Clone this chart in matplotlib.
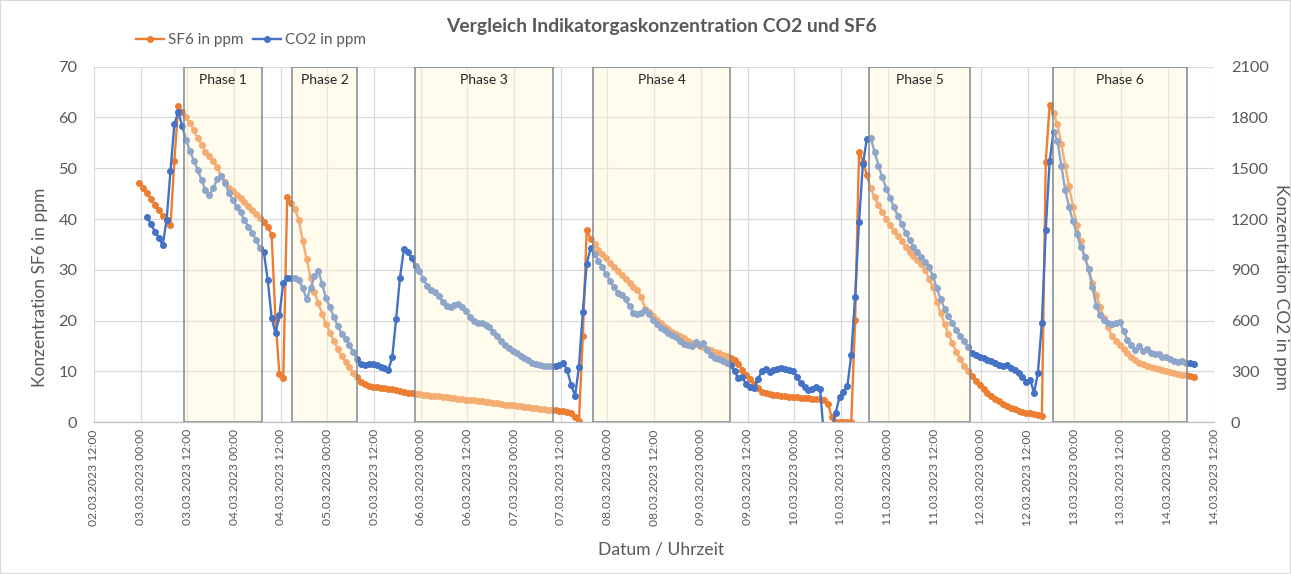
import numpy as np
import pandas as pd
import matplotlib
matplotlib.use("Agg")
import matplotlib.pyplot as plt
import matplotlib.dates as mdates
from matplotlib.patches import Rectangle

plt.rcParams['font.family'] = ['Lato', 'DejaVu Sans']

# hourly measurements, first sample 02.03.2023 23:40
start = "2023-03-02 23:40"

sf6_ppm = [
    47.2, 46.2, 45.1, 44.0, 42.8, 41.7, 40.7, 39.8, 38.8, 51.5,
    62.3, 61.0, 60.0, 58.9, 57.5, 55.9, 54.6, 53.3, 52.4, 51.4,
    50.2, 48.5, 47.4, 46.2, 45.6, 44.8, 44.1, 43.4, 42.6, 41.8,
    41.0, 40.3, 39.4, 38.5, 36.9, 20.1, 9.5, 8.7, 44.3, 43.1,
    42.0, 39.8, 35.7, 32.1, 28.5, 25.7, 23.4, 21.3, 19.3, 17.6,
    16.1, 14.4, 13.1, 11.9, 10.8, 9.8, 8.9, 7.9, 7.5, 7.1,
    7.0, 6.9, 6.8, 6.7, 6.6, 6.5, 6.3, 6.1, 5.9, 5.8,
    5.7, 5.6, 5.5, 5.4, 5.3, 5.25, 5.2, 5.1, 5.0, 4.9,
    4.8, 4.7, 4.6, 4.5, 4.45, 4.4, 4.3, 4.2, 4.1, 4.0,
    3.9, 3.8, 3.7, 3.6, 3.5, 3.4, 3.35, 3.3, 3.2, 3.1,
    3.0, 2.9, 2.8, 2.7, 2.6, 2.5, 2.4, 2.35, 2.3, 2.2,
    2.0, 1.8, 1.1, 0.3, 17.0, 37.9, 36.1, 35.1, 33.9, 33.1,
    32.3, 31.4, 30.6, 29.8, 29.0, 28.2, 27.5, 26.7, 26.0, 24.7,
    22.4, 21.8, 20.9, 20.1, 19.5, 18.8, 18.3, 17.8, 17.4, 16.9,
    16.5, 16.1, 15.7, 15.4, 15.1, 14.8, 14.5, 14.2, 13.9, 13.6,
    13.3, 13.0, 12.7, 12.3, 11.5, 10.3, 9.3, 8.5, 7.6, 6.7,
    6.0, 5.7, 5.5, 5.4, 5.3, 5.2, 5.1, 5.0, 4.95, 4.9,
    4.8, 4.75, 4.7, 4.6, 4.55, 4.5, 4.3, 3.6, 1.0, 0.0,
    0.0, 0.0, 0.0, 0.0, 20.1, 53.3, 51.3, 48.7, 46.1, 44.3,
    42.8, 41.3, 40.0, 38.8, 37.7, 36.7, 35.6, 34.6, 33.6, 32.8,
    31.9, 31.2, 30.0, 28.3, 26.6, 23.7, 21.5, 19.4, 17.3, 15.6,
    13.9, 12.4, 11.1, 10.0, 9.1, 8.2, 7.3, 6.6, 5.8, 5.2,
    4.5, 4.1, 3.6, 3.2, 2.9, 2.6, 2.3, 2.1, 1.9, 1.8,
    1.6, 1.4, 1.2, 51.3, 62.5, 60.8, 58.7, 54.8, 50.5, 46.5,
    42.4, 38.8, 35.7, 32.6, 30.2, 27.5, 25.1, 22.6, 20.6, 18.7,
    17.0, 16.1, 15.2, 14.4, 13.6, 12.9, 12.3, 11.7, 11.4, 11.1,
    10.9, 10.7, 10.5, 10.3, 10.1, 9.9, 9.7, 9.5, 9.4, 9.3,
    9.1, 8.9,
]

co2_ppm = [
    np.nan, np.nan, 1215, 1170, 1125, 1089, 1047, 1194, 1485, 1761,
    1833, 1752, 1668, 1602, 1545, 1491, 1428, 1371, 1341, 1383,
    1434, 1455, 1416, 1356, 1314, 1272, 1239, 1194, 1155, 1119,
    1077, 1029, 1005, 840, 618, 525, 633, 825, 855, 855,
    855, 840, 792, 726, 792, 861, 894, 816, 732, 678,
    621, 570, 522, 489, 456, 414, 372, 345, 339, 342,
    345, 336, 327, 318, 309, 384, 609, 855, 1023, 1005,
    969, 924, 894, 846, 804, 780, 768, 747, 708, 684,
    678, 690, 699, 678, 660, 624, 597, 588, 585, 576,
    561, 534, 507, 483, 456, 438, 423, 408, 393, 381,
    369, 351, 345, 339, 333, 330, 333, 333, 336, 351,
    306, 219, 156, 327, 654, 936, 1029, 993, 954, 915,
    876, 837, 801, 765, 753, 726, 684, 648, 639, 648,
    663, 639, 603, 579, 558, 546, 525, 516, 504, 480,
    462, 459, 450, 474, 459, 468, 426, 399, 381, 372,
    363, 351, 339, 300, 261, 267, 225, 210, 204, 255,
    300, 315, 297, 309, 315, 321, 315, 309, 300, 270,
    234, 210, 192, 198, 210, 195, -90, -90, -39, 57,
    150, 180, 213, 396, 741, 1185, 1524, 1674, 1680, 1596,
    1515, 1446, 1380, 1326, 1269, 1218, 1170, 1119, 1077, 1038,
    1008, 975, 948, 915, 864, 792, 726, 672, 627, 585,
    546, 510, 483, 444, 411, 396, 387, 378, 369, 363,
    351, 339, 333, 339, 321, 309, 294, 270, 240, 249,
    174, 294, 588, 1137, 1542, 1716, 1662, 1515, 1371, 1272,
    1188, 1110, 1038, 978, 903, 798, 687, 633, 603, 585,
    579, 585, 591, 540, 486, 456, 426, 450, 423, 432,
    408, 402, 402, 387, 387, 372, 363, 357, 363, 348,
    351, 342,
]

phase_names = ["Phase 1", "Phase 2", "Phase 3", "Phase 4", "Phase 5", "Phase 6"]
phase_start = ["2023-03-03 11:15", "2023-03-04 14:50", "2023-03-05 22:30",
               "2023-03-07 20:20", "2023-03-10 19:10", "2023-03-12 18:30"]
phase_end = ["2023-03-04 07:05", "2023-03-05 07:40", "2023-03-07 09:55",
             "2023-03-09 07:35", "2023-03-11 21:15", "2023-03-14 04:55"]

times = pd.date_range(start, periods=len(sf6_ppm), freq="h")

grey = "#595959"
orange = "#ED7D31"
blue = "#4472C4"

fig = plt.figure(figsize=(12.91, 5.74), dpi=100)
ax = fig.add_axes([0.0728, 0.2643, 0.8678, 0.6195])
ax2 = ax.twinx()

l1, = ax.plot(times, sf6_ppm, '-o', color=orange, lw=1.7, ms=4, label="SF6 in ppm")
l2, = ax2.plot(times, co2_ppm, '-o', color=blue, lw=1.7, ms=4, label="CO2 in ppm")

# phases as translucent boxes laid over the curves
for name, s, e in zip(phase_names, phase_start, phase_end):
    s, e = pd.Timestamp(s), pd.Timestamp(e)
    ax2.axvspan(s, e, ymin=0, ymax=1, facecolor=(1.0, 0.96, 0.83, 0.4),
                edgecolor="#7F8791", lw=1.1, zorder=5)
    ax2.text(s + (e - s) / 2, 2022, name, ha="center", va="center",
             fontsize=10, color="#262626", zorder=6)

ax.set_xlim(pd.Timestamp("2023-03-02 12:00"), pd.Timestamp("2023-03-14 12:00"))
ax.set_ylim(0, 70)
ax2.set_ylim(0, 2100)
ax.set_yticks(np.arange(0, 71, 10))
ax2.set_yticks(np.arange(0, 2101, 300))

ax.xaxis.set_major_locator(mdates.HourLocator(byhour=[0, 12]))
ax.xaxis.set_major_formatter(mdates.DateFormatter("%d.%m.%Y %H:%M"))
plt.setp(ax.get_xticklabels(), rotation=90, fontsize=8.7, color=grey)

ax.grid(color="#D9D9D9", lw=0.9)
ax.set_axisbelow(True)
for a in (ax, ax2):
    for sp in ("top", "left", "right"):
        a.spines[sp].set_visible(False)
    a.spines["bottom"].set_color("#BFBFBF")
    a.tick_params(axis="y", length=0, labelsize=11.8, labelcolor=grey, pad=12)
ax.tick_params(axis="x", length=0, pad=5)

fig.text(0.512, 0.953, "Vergleich Indikatorgaskonzentration CO2 und SF6",
         ha="center", va="center", fontsize=13.9, fontweight="bold", color=grey)
fig.text(0.031, 0.5, "Konzentration SF6 in ppm", rotation=90, ha="center",
         va="center", fontsize=12.5, color=grey)
fig.text(0.992, 0.5, "Konzentration CO2 in ppm", rotation=-90, ha="center",
         va="center", fontsize=12.5, color=grey)
fig.text(0.512, 0.042, "Datum / Uhrzeit", ha="center", va="center",
         fontsize=12.6, color=grey)

fig.legend(handles=[l1, l2], loc="center left", bbox_to_anchor=(0.095, 0.93),
           ncol=2, frameon=False, fontsize=11, handlelength=1.8,
           handletextpad=0.3, columnspacing=0.6, labelcolor=grey)

fig.patches.append(Rectangle((0, 0), 1, 1, transform=fig.transFigure,
                             fill=False, edgecolor="#D9D9D9", lw=1.5))

fig.savefig("out.png", dpi=100)
